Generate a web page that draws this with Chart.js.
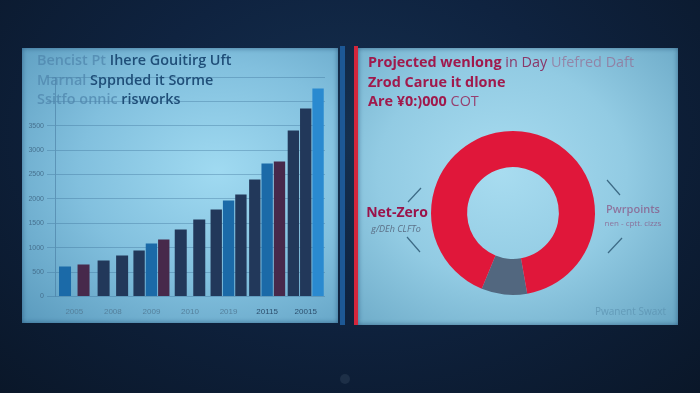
<!DOCTYPE html>
<html>
<head>
<meta charset="utf-8">
<script src="https://cdn.jsdelivr.net/npm/chart.js@4.4.1/dist/chart.umd.min.js"></script>
<style>
html, body { margin: 0; padding: 0; }
body {
    width: 700px; height: 393px; overflow: hidden; position: relative;
    background: radial-gradient(ellipse at 50% 35%, #15304f 0%, #0f2340 45%, #0a1729 100%);
    font-family: "Open Sans", sans-serif;
}
#screen { position: absolute; left: 0; top: 0; width: 700px; height: 393px; filter: blur(0.6px); }
.panel { position: absolute; }
#left {
    left: 22px; top: 48px; width: 316px; height: 275px;
    background: radial-gradient(ellipse at 62% 45%, #a0daf1 0%, #82c0de 50%, #5a9abd 100%);
    box-shadow: inset 0 0 5px rgba(20, 60, 100, .6);
}
#right {
    left: 358px; top: 48px; width: 320px; height: 277px;
    background: radial-gradient(ellipse at 45% 45%, #a8dcf0 0%, #92cbe3 50%, #68a6c4 100%);
    box-shadow: inset 0 0 5px rgba(20, 60, 100, .6);
}
#stripeBlue { left: 340px; top: 46px; width: 5px; height: 279px; background: #1d5895; }
#stripeRed { left: 354px; top: 46px; width: 4px; height: 279px; background: #d3263c; }
canvas { position: absolute; left: 0; top: 0; }
.title { position: absolute; font-size: 14.4px; line-height: 19.5px; white-space: nowrap; }
#leftTitle { left: 15px; top: 2px; color: #1f4e78; font-weight: 600; }
#leftTitle .faint { color: #4f86ad; opacity: .75; }
#rightTitle { left: 10px; top: 4px; color: #a0194c; font-weight: 700; }
#rightTitle .mid { color: #8a3768; font-weight: 500; }
#rightTitle .faint { color: #9a5c84; font-weight: 500; opacity: .6; }
#rightTitle .thin { font-weight: 400; color: #96406f; }
#footnote { position: absolute; right: 12px; bottom: 7px; font-size: 10px; color: #5a90ae; opacity: .7; }
#knob { position: absolute; left: 340px; top: 374px; width: 10px; height: 10px; border-radius: 5px; background: #1d2f47; }
</style>
</head>
<body>
<div id="screen">
    <div class="panel" id="left">
        <canvas id="barChart" width="316" height="275"></canvas>
        <div class="title" id="leftTitle">
            <span class="faint">Bencist Pt</span> Ihere Gouitirg Uft<br>
            <span class="faint">Marnal</span> Sppnded it Sorme<br>
            <span class="faint">Ssitfo onnic</span> risworks
        </div>
    </div>
    <div class="panel" id="stripeBlue"></div>
    <div class="panel" id="stripeRed"></div>
    <div class="panel" id="right">
        <canvas id="donutChart" width="320" height="277"></canvas>
        <div class="title" id="rightTitle">
            Projected wenlong <span class="mid">in Day</span> <span class="faint">Ufefred Daft</span><br>
            Zrod Carue it dlone<br>
            Are ¥0:)000 <span class="thin">COT</span>
        </div>
        <div id="footnote">Pwanent Swaxt</div>
    </div>
    <div id="knob"></div>
</div>
<script>
// bar chart data
const years = ['2005', '2008', '2009', '2010', '2019', '20115', '20015'];
const firstBars = [615, 738, 943, 1373, 1783, 2398, 3403];
const secondBars = [656, 840, 1086, 1578, 1968, 2726, 3854];
const thirdBars = [null, null, 1168, null, 2091, 2767, 4264];
const yTickLabels = ['0', '500', '1000', '1500', '2000', '2500', '3000', '3500'];

// donut data
const donutLabels = ['Grey', 'Net-Zero'];
const donutValues = [9, 91];

const navy = '#22385a', blue = '#1b6aa8', maroon = '#47294b', brightBlue = '#2a8ad0';
const firstColors = [blue, navy, navy, navy, navy, navy, navy];
const secondColors = [maroon, navy, blue, navy, blue, blue, navy];
const thirdColors = [navy, navy, maroon, navy, navy, maroon, brightBlue];

new Chart(document.getElementById('barChart'), {
    type: 'bar',
    data: {
        labels: years,
        datasets: [
            { label: 'A', data: firstBars, backgroundColor: firstColors, skipNull: true },
            { label: 'B', data: secondBars, backgroundColor: secondColors, skipNull: true },
            { label: 'C', data: thirdBars, backgroundColor: thirdColors, skipNull: true }
        ]
    },
    options: {
        responsive: false,
        animation: false,
        maxBarThickness: 12,
        barPercentage: 0.92,
        categoryPercentage: 0.96,
        layout: { padding: { left: 5, right: 13, top: 29, bottom: 3 } },
        plugins: { legend: { display: false }, tooltip: { enabled: false } },
        scales: {
            x: {
                grid: { display: false },
                border: { display: false },
                ticks: {
                    font: { size: 8 },
                    color: (c) => c.index >= 5 ? '#2d4f6d' : '#55809c'
                }
            },
            y: {
                min: 0,
                max: 4500,
                afterFit: (s) => { s.width = 28; },
                grid: { color: 'rgba(55,105,145,0.35)' },
                border: { color: 'rgba(55,105,145,0.45)' },
                ticks: {
                    stepSize: 500,
                    font: { size: 7 },
                    color: '#46718f',
                    callback: (v, i) => yTickLabels[i] || ''
                }
            }
        }
    }
});

const callouts = {
    id: 'callouts',
    afterDraw(chart) {
        const arc = chart.getDatasetMeta(0).data[0];
        const cx = arc.x, cy = arc.y;
        const ctx = chart.ctx;
        ctx.save();
        ctx.strokeStyle = '#3d6a85';
        ctx.lineWidth = 1.2;
        const seg = (x1, y1, x2, y2) => {
            ctx.beginPath(); ctx.moveTo(cx + x1, cy + y1); ctx.lineTo(cx + x2, cy + y2); ctx.stroke();
        };
        seg(-105, -11, -92, -25);
        seg(-106, 24, -93, 39);
        seg(94, -33, 107, -18);
        seg(95, 40, 109, 25);
        ctx.textAlign = 'center';
        ctx.textBaseline = 'middle';
        ctx.fillStyle = '#9a1249';
        ctx.font = '700 14px "Open Sans"';
        ctx.fillText(donutLabels[1], cx - 116, cy);
        ctx.fillStyle = '#5b6f86';
        ctx.font = 'italic 9px "Open Sans"';
        ctx.fillText('g/DEh CLFTo', cx - 117, cy + 16);
        ctx.globalAlpha = 0.6;
        ctx.fillStyle = '#8a3a6e';
        ctx.font = '600 11px "Open Sans"';
        ctx.fillText('Pwrpoints', cx + 120, cy - 3);
        ctx.font = '8px "Open Sans"';
        ctx.fillText('nen - cptt. cizzs', cx + 120, cy + 11);
        ctx.restore();
    }
};

new Chart(document.getElementById('donutChart'), {
    type: 'doughnut',
    data: {
        labels: donutLabels,
        datasets: [{
            data: donutValues,
            backgroundColor: ['#52677f', '#e0173a'],
            borderWidth: 0
        }]
    },
    options: {
        responsive: false,
        animation: false,
        cutout: '56%',
        rotation: 170,
        layout: { padding: { left: 73, right: 83, top: 83, bottom: 30 } },
        plugins: { legend: { display: false }, tooltip: { enabled: false } }
    },
    plugins: [callouts]
});
</script>
</body>
</html>
